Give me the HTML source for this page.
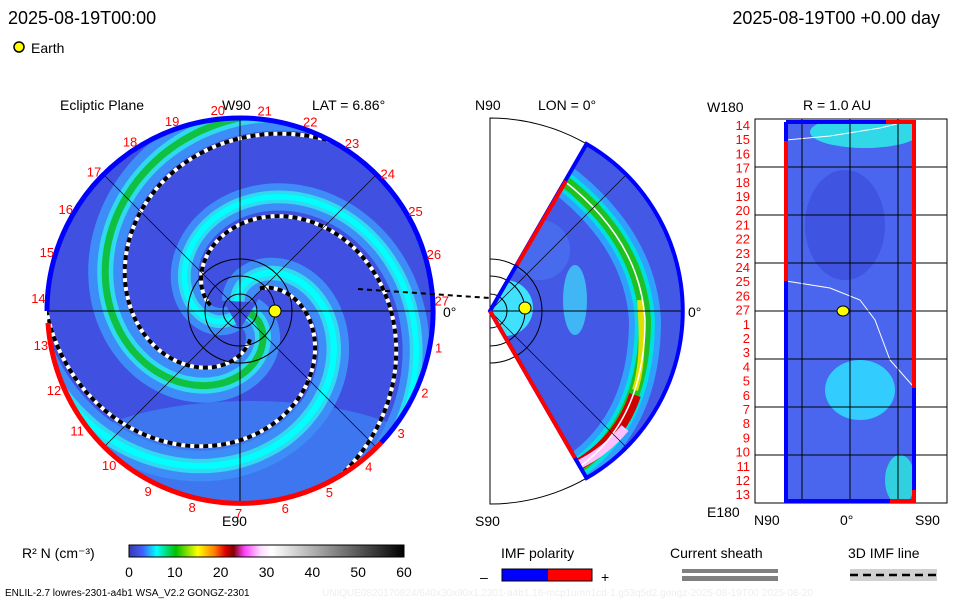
<!DOCTYPE html>
<html><head><meta charset="utf-8"><style>
body{margin:0;background:#fff;width:960px;height:600px;overflow:hidden}
svg{display:block;font-family:"Liberation Sans",sans-serif}
.t{font-size:18px;fill:#000}
.l{font-size:14px;fill:#000}
.r{font-size:13px;fill:#f00}
</style></head><body>
<svg id="s" width="960" height="600" viewBox="0 0 960 600">
<defs>
<clipPath id="disk"><circle cx="240" cy="311" r="193"/></clipPath>
<clipPath id="wedge"><path d="M490,311 L586.5,144 A193,193 0 0 1 586.5,478 Z"/></clipPath>
<clipPath id="rect"><rect x="786" y="122" width="128" height="380"/></clipPath>
<linearGradient id="cb" x1="0" x2="1">
<stop offset="0" stop-color="#3a3ab0"/><stop offset="0.05" stop-color="#4060ff"/><stop offset="0.1" stop-color="#00ffff"/>
<stop offset="0.17" stop-color="#00c000"/><stop offset="0.25" stop-color="#ffff00"/><stop offset="0.31" stop-color="#ff8000"/>
<stop offset="0.35" stop-color="#e00000"/><stop offset="0.38" stop-color="#800000"/><stop offset="0.42" stop-color="#ff40ff"/>
<stop offset="0.48" stop-color="#ffe0ff"/><stop offset="0.52" stop-color="#ffffff"/><stop offset="1" stop-color="#000"/>
</linearGradient>
</defs>
<text class="t" x="8" y="24">2025-08-19T00:00</text>
<text class="t" x="940" y="24" text-anchor="end">2025-08-19T00 +0.00 day</text>
<circle cx="19" cy="47" r="5" fill="#ff0" stroke="#000" stroke-width="1.5"/>
<text class="l" x="31" y="53">Earth</text>

<text class="l" x="60" y="110">Ecliptic Plane</text>
<text class="l" x="222" y="110">W90</text>
<text class="l" x="312" y="110">LAT = 6.86°</text>
<g id="left"></g>
<text class="l" x="222" y="526">E90</text>
<text class="l" x="443" y="317">0°</text>

<text class="l" x="475" y="110">N90</text>
<text class="l" x="538" y="110">LON = 0°</text>
<g id="mid"></g>
<text class="l" x="475" y="526">S90</text>
<text class="l" x="688" y="317">0°</text>

<text class="l" x="803" y="110">R = 1.0 AU</text>
<text class="l" x="707" y="112">W180</text>
<text class="l" x="707" y="517">E180</text>
<text class="l" x="754" y="525">N90</text>
<text class="l" x="840" y="525">0°</text>
<text class="l" x="915" y="525">S90</text>
<g id="right"></g>

<text class="l" x="22" y="558">R² N (cm⁻³)</text>
<rect x="129" y="545" width="275" height="12" fill="url(#cb)" stroke="#000"/>
<g id="cbticks"></g>

<text class="l" x="501" y="558">IMF polarity</text>
<text class="l" x="480" y="582">–</text>
<rect x="502" y="569" width="46" height="12" fill="#00f"/>
<rect x="548" y="569" width="44" height="12" fill="#f00"/>
<rect x="502" y="569" width="90" height="12" fill="none" stroke="#000"/>
<text class="l" x="601" y="582">+</text>
<text class="l" x="670" y="558">Current sheath</text>
<rect x="682" y="569" width="96" height="4" fill="#808080"/>
<rect x="682" y="576" width="96" height="5" fill="#808080"/>
<text class="l" x="848" y="558">3D IMF line</text>
<rect x="850" y="569" width="87" height="12" fill="#d0d0d0"/>
<line x1="850" y1="575" x2="937" y2="575" stroke="#000" stroke-width="2.5" stroke-dasharray="8,5"/>
<text x="5" y="596" style="font-size:10px">ENLIL-2.7 lowres-2301-a4b1 WSA_V2.2 GONGZ-2301</text>
<text x="322" y="596" style="font-size:10px;fill:#eee">UNIQUE0820170824/640x30x90x1.2301-a4b1.16-mcp1umn1cd-1.g53q5d2.gongz-2025-08-19T00   2025-08-20</text>
</svg>
<script>
var NS="http://www.w3.org/2000/svg";
var cbTicks=[0,10,20,30,40,50,60];
var armPhases=[0,2.1,4.2];
var armWidth=[1,0.8,0.9];
var shellLabels=[14,15,16,17,18,19,20,21,22,23,24,25,26,27,1,2,3,4,5,6,7,8,9,10,11,12,13];
var diskLabels=[27,26,25,24,23,22,21,20,19,18,17,16,15,14,13,12,11,10,9,8,7,6,5,4,3,2,1];
function mk(t,a,p){var e=document.createElementNS(NS,t);for(var k in a)e.setAttribute(k,a[k]);(p||document.getElementById('s')).appendChild(e);return e;}
var cbg=document.getElementById('cbticks');
cbTicks.forEach(function(v){var x=129+v/60*275;
var t=mk('text',{x:x,y:577,'text-anchor':'middle','class':'l'},cbg);t.textContent=v;

});
var L=document.getElementById('left');var cx=240,cy=311,R=193;
var g=mk('g',{'clip-path':'url(#disk)'},L);
mk('circle',{cx:cx,cy:cy,r:R,fill:'#4050e0'},g);
mk('ellipse',{cx:cx+10,cy:cy+150,rx:180,ry:60,fill:'#3e90f8',opacity:0.6},g);
function pt(ph,r){var a=ph+r/41;return (cx+r*Math.cos(a)).toFixed(1)+','+(cy+r*Math.sin(a)).toFixed(1);}
function spiral(ph,r0,r1){var pts=[];for(var r=r0;r<=r1;r+=2)pts.push(pt(ph,r));return pts.join(' ');}
armPhases.forEach(function(ph,i){
var p=spiral(ph,10,260);
mk('polyline',{points:p,fill:'none',stroke:'#3e8cf8','stroke-width':34*armWidth[i]},g);
mk('polyline',{points:p,fill:'none',stroke:'#30d8f0','stroke-width':16*armWidth[i]},g);
var s=mk('polyline',{points:p,fill:'none',stroke:i==0?'#10c040':'#00ffff','stroke-width':7*armWidth[i]},g);


var d=spiral(ph+0.5,30,200);
mk('polyline',{points:d,fill:'none',stroke:'#fff','stroke-width':4},g);
mk('polyline',{points:d,fill:'none',stroke:'#000','stroke-width':4,'stroke-dasharray':'5,4'},g);
});
mk('line',{x1:cx-R,y1:cy,x2:cx+R,y2:cy,stroke:'#000','stroke-width':1},L);
mk('line',{x1:cx,y1:cy-R,x2:cx,y2:cy+R,stroke:'#000','stroke-width':1},L);
mk('line',{x1:cx-136,y1:cy-136,x2:cx+136,y2:cy+136,stroke:'#000','stroke-width':0.7},L);
mk('line',{x1:cx-136,y1:cy+136,x2:cx+136,y2:cy-136,stroke:'#000','stroke-width':0.7},L);
[17,35,52].forEach(function(r){mk('circle',{cx:cx,cy:cy,r:r,fill:'none',stroke:'#000','stroke-width':1},L);});
var bx=cx+R*Math.cos(0.75),by=cy+R*Math.sin(0.75);
mk('path',{d:'M'+(cx-R)+','+cy+' A'+R+','+R+' 0 1 1 '+bx+','+by,fill:'none',stroke:'#00f','stroke-width':5},L);
mk('path',{d:'M'+bx+','+by+' A'+R+','+R+' 0 0 1 '+(cx-R+1)+','+(cy+12),fill:'none',stroke:'#f00','stroke-width':5},L);
mk('line',{x1:358,y1:289,x2:490,y2:298,stroke:'#000','stroke-width':2,'stroke-dasharray':'5,4'},L);
var e=mk('circle',{cx:275,cy:311,r:6,fill:'#ff0',stroke:'#000','stroke-width':1},L);


diskLabels.forEach(function(n,i){var a=(-3-i*13.33)*Math.PI/180;
var t=mk('text',{x:cx+(R+9)*Math.cos(a),y:cy+(R+9)*Math.sin(a)+5,'text-anchor':'middle','class':'r'},L);t.textContent=n;

});
var M=document.getElementById('mid');
mk('path',{d:'M490,118 A193,193 0 0 1 490,504 Z',fill:'none',stroke:'#000','stroke-width':1},M);
var mg=mk('g',{'clip-path':'url(#wedge)'},M);
mk('rect',{x:490,y:100,width:200,height:420,fill:'#4458e6'},mg);
mk('ellipse',{cx:575,cy:300,rx:12,ry:35,fill:'#40d0f8',opacity:0.8},mg);
mk('ellipse',{cx:540,cy:250,rx:30,ry:30,fill:'#4a70f0',opacity:0.8},mg);
mk('circle',{cx:505,cy:308,r:28,fill:'#40e0ff'},mg);
var arc='M563,180 Q640,240 645,320 Q645,420 578,468';
mk('path',{d:arc,fill:'none',stroke:'#30a0ff','stroke-width':32},mg);
mk('path',{d:arc,fill:'none',stroke:'#00e0e0','stroke-width':20},mg);
mk('path',{d:arc,fill:'none',stroke:'#20c020','stroke-width':12},mg);
mk('path',{d:'M640,300 Q645,360 635,390',fill:'none',stroke:'#e0e000','stroke-width':6},mg);
mk('path',{d:'M635,395 Q620,440 578,465',fill:'none',stroke:'#d00000','stroke-width':12},mg);
mk('path',{d:'M625,428 Q605,452 578,465',fill:'none',stroke:'#ffc0ff','stroke-width':9},mg);
mk('path',{d:arc,fill:'none',stroke:'#fff','stroke-width':1.5},mg);
mk('line',{x1:490,y1:311,x2:682,y2:311,stroke:'#000'},M);
mk('line',{x1:490,y1:311,x2:625,y2:176,stroke:'#000','stroke-width':0.7},M);
mk('line',{x1:490,y1:311,x2:625,y2:446,stroke:'#000','stroke-width':0.7},M);
[17,35,52].forEach(function(r){mk('path',{d:'M490,'+(311-r)+' A'+r+','+r+' 0 0 1 490,'+(311+r),fill:'none',stroke:'#000'},M);});
mk('path',{d:'M490,311 L586.5,144 A193,193 0 0 1 586.5,478 Z',fill:'none',stroke:'#00f','stroke-width':4},M);
mk('line',{x1:517,y1:265,x2:566,y2:181,stroke:'#f00','stroke-width':4},M);
mk('line',{x1:490,y1:311,x2:575,y2:458,stroke:'#f00','stroke-width':4},M);
mk('circle',{cx:525,cy:308,r:6,fill:'#ff0',stroke:'#000'},M);
var Rg=document.getElementById('right');
mk('rect',{x:755,y:119,width:192,height:384,fill:'none',stroke:'#000'},Rg);
var rg=mk('g',{'clip-path':'url(#rect)'},Rg);
mk('rect',{x:786,y:122,width:128,height:380,fill:'#4a66ee'},rg);
mk('ellipse',{cx:865,cy:132,rx:55,ry:16,fill:'#30d8e8'},rg);
mk('ellipse',{cx:860,cy:390,rx:35,ry:30,fill:'#30d8ff',opacity:0.9},rg);
mk('ellipse',{cx:845,cy:225,rx:40,ry:55,fill:'#3848d8',opacity:0.6},rg);
mk('ellipse',{cx:900,cy:480,rx:15,ry:25,fill:'#30d0e0'},rg);
mk('polyline',{points:'786,140 830,136 880,128 905,122',fill:'none',stroke:'#fff'},rg);
mk('polyline',{points:'786,281 830,288 860,300 875,320 890,360 912,385',fill:'none',stroke:'#fff'},rg);
[167,215,263,311,359,407,455].forEach(function(y){mk('line',{x1:755,y1:y,x2:947,y2:y,stroke:'#000'},Rg);});
[802,850,898].forEach(function(x){mk('line',{x1:x,y1:119,x2:x,y2:503,stroke:'#000'},Rg);});
mk('polyline',{points:'786,122 786,501 890,501',fill:'none',stroke:'#00f','stroke-width':4},Rg);
mk('line',{x1:786,y1:141,x2:786,y2:281,stroke:'#f00','stroke-width':4},Rg);
mk('polyline',{points:'786,122 886,122',fill:'none',stroke:'#00f','stroke-width':4},Rg);
mk('polyline',{points:'886,122 914,122 914,388',fill:'none',stroke:'#f00','stroke-width':4},Rg);
mk('line',{x1:914,y1:388,x2:914,y2:490,stroke:'#00f','stroke-width':4},Rg);
mk('polyline',{points:'914,490 914,501 890,501',fill:'none',stroke:'#f00','stroke-width':4},Rg);
mk('ellipse',{cx:843,cy:311,rx:6,ry:5,fill:'#ff0',stroke:'#000'},Rg);
shellLabels.forEach(function(n,i){var t=mk('text',{x:750,y:130+i*14.2,'text-anchor':'end','class':'r'},Rg);t.textContent=n;

});
</script>
</body></html>
